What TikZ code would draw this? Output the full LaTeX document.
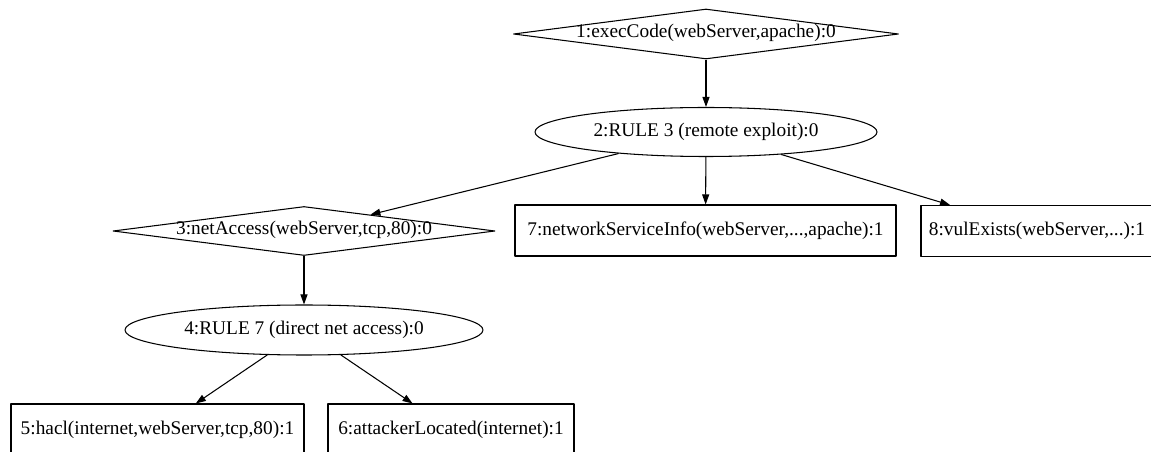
\documentclass[tikz,border=0pt]{standalone}
\usepackage{fontspec}
\setmainfont{Liberation Serif}
\usetikzlibrary{shapes.geometric,arrows.meta}
\tikzset{
	fact/.style={draw,rectangle,inner sep=0pt,minimum height=1.02cm},
	goal/.style={draw,diamond,aspect=7.7,inner sep=0pt,text height=1.2ex,text depth=0.25ex,minimum width=7.7cm,minimum height=1cm},
	rulenode/.style={draw,ellipse,inner sep=0pt,minimum height=0.98cm}
}
\begin{document}
\begin{tikzpicture}[>={Triangle[length=2mm,width=1.4mm]},line width=0.6pt,line join=round,font=\fontsize{11}{13}\selectfont]
			\useasboundingbox (0,0) rectangle (23.02,-9.04);
			\node[goal] (n1) at (14.12,-0.68) {1:execCode(webServer,apache):0};
			\node[rulenode,minimum width=6.84cm] (n2) at (14.12,-2.64) {2:RULE 3 (remote exploit):0};
			\node[goal,minimum width=7.64cm,minimum height=0.98cm] (n3) at (6.08,-4.62) {3:netAccess(webServer,tcp,80):0};
			\node[rulenode,minimum width=7.16cm,minimum height=1cm] (n4) at (6.08,-6.6) {4:RULE 7 (direct net access):0};
			\foreach \x/\y/\w/\id/\lbl in {3.15/-8.59/5.86/n5/{5:hacl(internet,webServer,tcp,80):1},9.02/-8.59/4.92/n6/{6:attackerLocated(internet):1},14.11/-4.61/7.62/n7/{7:networkServiceInfo(webServer,...,apache):1},20.74/-4.62/4.64/n8/{8:vulExists(webServer,...):1}}
			\node[fact,minimum width=\w cm] (\id) at (\x,\y) {\lbl};
			\foreach \a/\b in {n1/n2,n2/n3,n2/n7,n2/n8,n3/n4,n4/n5,n4/n6}
			\draw[->] (\a) -- (\b);
		\end{tikzpicture}
\end{document}
